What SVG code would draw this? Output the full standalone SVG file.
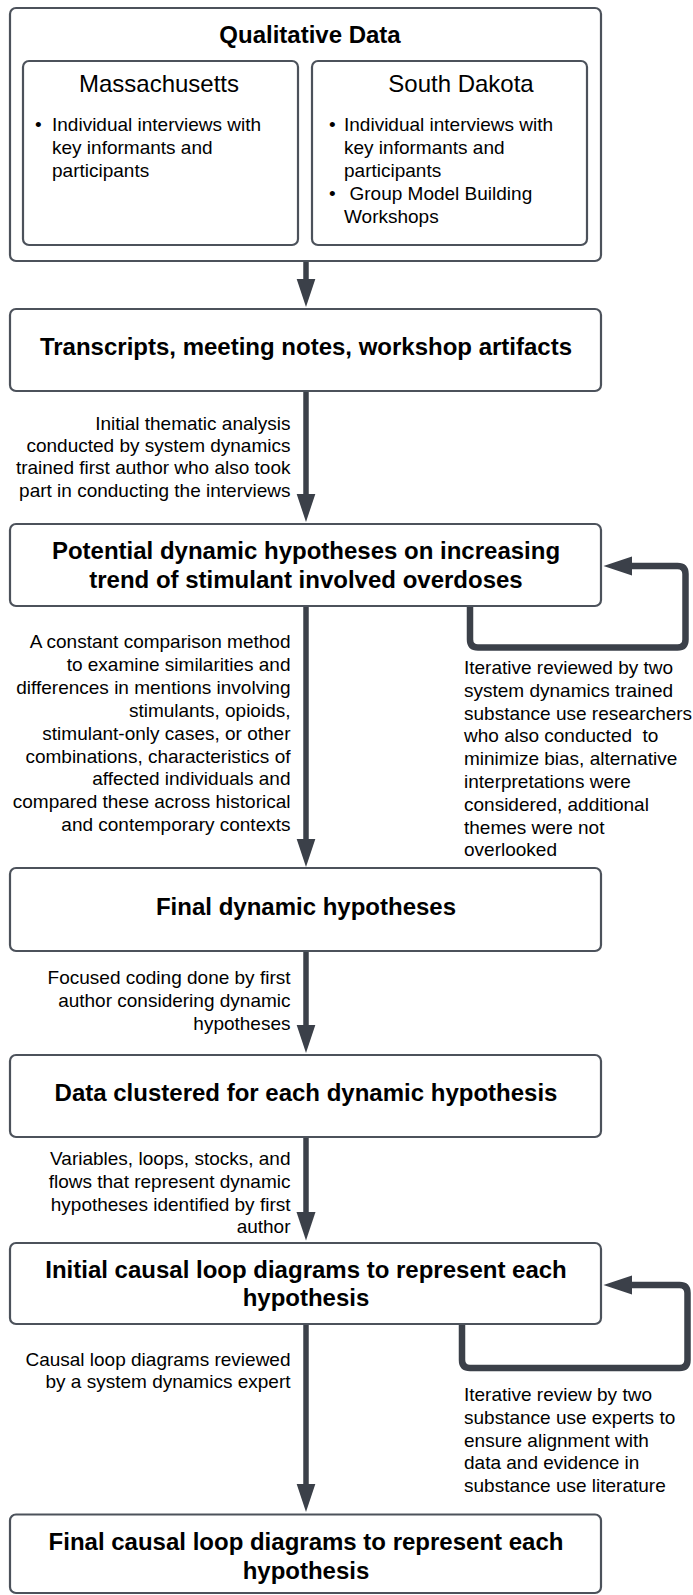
<svg xmlns="http://www.w3.org/2000/svg" width="693" height="1595" viewBox="0 0 693 1595">
<style>
.box{fill:#ffffff;stroke:#4c525b;stroke-width:2.2}
.t{font-family:"Liberation Sans",Arial,Helvetica,sans-serif;fill:#000;white-space:pre}
.b{font-weight:bold;font-size:24px;text-anchor:middle}
.h{font-size:24px;text-anchor:middle}
.r{font-size:19px}
.lab{font-size:19px;text-anchor:end}
.lab2{font-size:19px;text-anchor:start}
.shaft{stroke:#3b4049;stroke-width:5.5;fill:none}
.loop{stroke:#3b4049;stroke-width:6.5;fill:none}
.head{fill:#3b4049}
</style>
<defs>
<marker id="ah" markerUnits="userSpaceOnUse" markerWidth="30" markerHeight="20" refX="1" refY="9.5" orient="auto">
<path class="head" d="M0,0 L28.5,9.5 L0,19 Z"/>
</marker>
</defs>
<rect width="693" height="1595" fill="#ffffff"/>

<g id="connectors">
<line class="shaft" x1="306" y1="262" x2="306" y2="279.5" marker-end="url(#ah)"/>
<line class="shaft" x1="306" y1="391" x2="306" y2="494.5" marker-end="url(#ah)"/>
<line class="shaft" x1="306" y1="606" x2="306" y2="839.5" marker-end="url(#ah)"/>
<line class="shaft" x1="306" y1="951" x2="306" y2="1025.5" marker-end="url(#ah)"/>
<line class="shaft" x1="306" y1="1137" x2="306" y2="1213" marker-end="url(#ah)"/>
<line class="shaft" x1="306" y1="1324" x2="306" y2="1484.5" marker-end="url(#ah)"/>
<path class="loop" d="M470,606 L470,639.5 Q470,647.5 478,647.5 L677.5,647.5 Q685.5,647.5 685.5,639.5 L685.5,574 Q685.5,566 677.5,566 L631,566" marker-end="url(#ah)"/>
<path class="loop" d="M462,1324 L462,1360 Q462,1368 470,1368 L679.5,1368 Q687.5,1368 687.5,1360 L687.5,1293 Q687.5,1285 679.5,1285 L631,1285" marker-end="url(#ah)"/>
</g>

<g id="qualitative-data">
<rect class="box" x="10" y="8" width="591" height="253" rx="6"/>
<text class="t b" x="310" y="43">Qualitative Data</text>
</g>

<g id="massachusetts">
<rect class="box" x="23" y="61" width="275" height="184" rx="6"/>
<text class="t h" x="159" y="92">Massachusetts</text>
<text class="t r" x="35" y="131">•</text>
<text class="t r" x="52" y="131">Individual interviews with</text>
<text class="t r" x="52" y="154">key informants and</text>
<text class="t r" x="52" y="177">participants</text>
</g>

<g id="south-dakota">
<rect class="box" x="312" y="61" width="275" height="184" rx="6"/>
<text class="t h" x="461" y="92">South Dakota</text>
<text class="t r" x="329" y="131">•</text>
<text class="t r" x="344" y="131">Individual interviews with</text>
<text class="t r" x="344" y="154">key informants and</text>
<text class="t r" x="344" y="177">participants</text>
<text class="t r" x="329" y="200">•</text>
<text class="t r" x="349.5" y="200">Group Model Building</text>
<text class="t r" x="344" y="223">Workshops</text>
</g>

<g id="transcripts">
<rect class="box" x="10" y="309" width="591" height="82" rx="6"/>
<text class="t b" x="306" y="355">Transcripts, meeting notes, workshop artifacts</text>
</g>

<g id="label-initial-thematic">
<text class="t lab" x="290.5"><tspan x="290.5" y="430">Initial thematic analysis</tspan><tspan x="290.5" y="452.2">conducted by system dynamics</tspan><tspan x="290.5" y="474.4">trained first author who also took</tspan><tspan x="290.5" y="496.6">part in conducting the interviews</tspan></text>
</g>

<g id="potential-hypotheses">
<rect class="box" x="10" y="524" width="591" height="82" rx="6"/>
<text class="t b" x="306"><tspan x="306" y="559">Potential dynamic hypotheses on increasing</tspan><tspan x="306" y="588">trend of stimulant involved overdoses</tspan></text>
</g>

<g id="label-constant-comparison">
<text class="t lab" x="290.5"><tspan x="290.5" y="648">A constant comparison method</tspan><tspan x="290.5" y="670.9">to examine similarities and</tspan><tspan x="290.5" y="693.8">differences in mentions involving</tspan><tspan x="290.5" y="716.7">stimulants, opioids,</tspan><tspan x="290.5" y="739.6">stimulant-only cases, or other</tspan><tspan x="290.5" y="762.5">combinations, characteristics of</tspan><tspan x="290.5" y="785.4">affected individuals and</tspan><tspan x="290.5" y="808.3">compared these across historical</tspan><tspan x="290.5" y="831.2">and contemporary contexts</tspan></text>
</g>

<g id="label-iterative-reviewed">
<text class="t lab2" x="464"><tspan x="464" y="674">Iterative reviewed by two</tspan><tspan x="464" y="696.8">system dynamics trained</tspan><tspan x="464" y="719.6">substance use researchers</tspan><tspan x="464" y="742.4">who also conducted  to</tspan><tspan x="464" y="765.2">minimize bias, alternative</tspan><tspan x="464" y="788">interpretations were</tspan><tspan x="464" y="810.8">considered, additional</tspan><tspan x="464" y="833.6">themes were not</tspan><tspan x="464" y="856.4">overlooked</tspan></text>
</g>

<g id="final-hypotheses">
<rect class="box" x="10" y="868" width="591" height="83" rx="6"/>
<text class="t b" x="306" y="915">Final dynamic hypotheses</text>
</g>

<g id="label-focused-coding">
<text class="t lab" x="290.5"><tspan x="290.5" y="984">Focused coding done by first</tspan><tspan x="290.5" y="1006.8">author considering dynamic</tspan><tspan x="290.5" y="1029.6">hypotheses</tspan></text>
</g>

<g id="data-clustered">
<rect class="box" x="10" y="1055" width="591" height="82" rx="6"/>
<text class="t b" x="306" y="1100.5">Data clustered for each dynamic hypothesis</text>
</g>

<g id="label-variables">
<text class="t lab" x="290.5"><tspan x="290.5" y="1165">Variables, loops, stocks, and</tspan><tspan x="290.5" y="1187.8">flows that represent dynamic</tspan><tspan x="290.5" y="1210.6">hypotheses identified by first</tspan><tspan x="290.5" y="1233.4">author</tspan></text>
</g>

<g id="initial-cld">
<rect class="box" x="10" y="1243" width="591" height="81" rx="6"/>
<text class="t b" x="306"><tspan x="306" y="1277.5">Initial causal loop diagrams to represent each</tspan><tspan x="306" y="1306">hypothesis</tspan></text>
</g>

<g id="label-causal-reviewed">
<text class="t lab" x="290.5"><tspan x="290.5" y="1365.5">Causal loop diagrams reviewed</tspan><tspan x="290.5" y="1388.3">by a system dynamics expert</tspan></text>
</g>

<g id="label-iterative-review">
<text class="t lab2" x="464"><tspan x="464" y="1400.7">Iterative review by two</tspan><tspan x="464" y="1423.6">substance use experts to</tspan><tspan x="464" y="1446.5">ensure alignment with</tspan><tspan x="464" y="1469.4">data and evidence in</tspan><tspan x="464" y="1492.3">substance use literature</tspan></text>
</g>

<g id="final-cld">
<rect class="box" x="10" y="1514.5" width="591" height="78.5" rx="6"/>
<text class="t b" x="306"><tspan x="306" y="1550">Final causal loop diagrams to represent each</tspan><tspan x="306" y="1578.5">hypothesis</tspan></text>
</g>
</svg>
